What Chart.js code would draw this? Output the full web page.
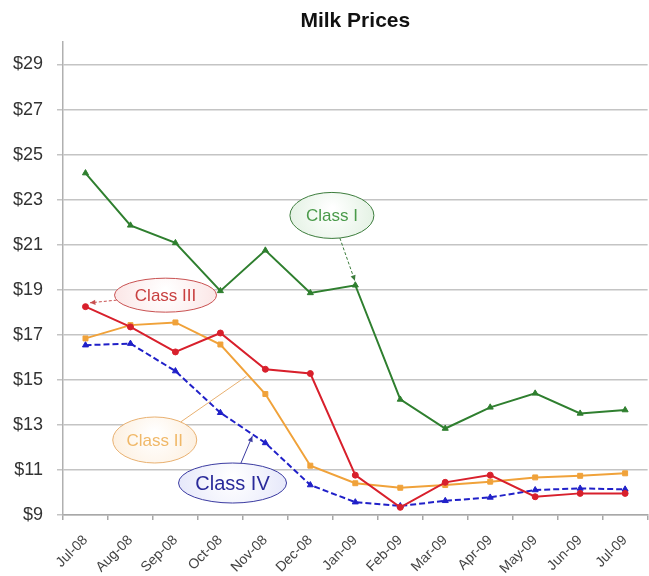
<!DOCTYPE html>
<html>
<head>
<meta charset="utf-8">
<script src="https://cdn.jsdelivr.net/npm/chart.js@4.4.1/dist/chart.umd.min.js"></script>
<style>
  html, body { margin: 0; padding: 0; background: #ffffff; }
  #milkChart { display: block; }
</style>
</head>
<body>
<canvas id="milkChart" width="649" height="576"></canvas>
<script>
const months = ['Jul-08', 'Aug-08', 'Sep-08', 'Oct-08', 'Nov-08', 'Dec-08', 'Jan-09',
    'Feb-09', 'Mar-09', 'Apr-09', 'May-09', 'Jun-09', 'Jul-09']
const class1 = [24.18, 21.86, 21.08, 18.95, 20.75, 18.86, 19.2, 14.13, 12.84, 13.78, 14.4, 13.51, 13.66]
const class2 = [16.84, 17.43, 17.55, 16.57, 14.37, 11.19, 10.41, 10.21, 10.33, 10.48, 10.67, 10.74, 10.85]
const class3 = [18.25, 17.35, 16.24, 17.08, 15.47, 15.28, 10.77, 9.34, 10.45, 10.77, 9.81, 9.96, 9.96]
const class4 = [16.54, 16.61, 15.39, 13.54, 12.2, 10.33, 9.57, 9.4, 9.63, 9.78, 10.11, 10.18, 10.14]
const yTicks = [9, 11, 13, 15, 17, 19, 21, 23, 25, 27, 29]
const chartTitle = 'Milk Prices'

// callout bubbles, placed in data space (category index, price)
const callouts = [
    { text: 'Class I', at: [5.48, 22.3], tip: [5.99, 19.4], rx: 42, ry: 23, size: 17,
      line: '#3c7c3c', textColor: '#4a9a4a', tint: '#e4f2e4', dashed: true, arrow: true },
    { text: 'Class III', at: [1.78, 18.76], tip: [0.1, 18.42], rx: 51, ry: 17, size: 17,
      line: '#c85050', textColor: '#c84040', tint: '#fbe6e6', dashed: true, arrow: true },
    { text: 'Class II', at: [1.54, 12.33], tip: [3.58, 15.16], rx: 42, ry: 23, size: 17,
      line: '#e8b070', textColor: '#f0b868', tint: '#fdf0e0', dashed: false, arrow: false },
    { text: 'Class IV', at: [3.27, 10.42], tip: [3.71, 12.5], rx: 54, ry: 20, size: 20,
      line: '#3a3aa0', textColor: '#2a2a9a', tint: '#e6e8fa', dashed: false, arrow: true }
]

function drawArrow(ctx, x0, y0, x1, y1, color) {
    let a = Math.atan2(y1 - y0, x1 - x0)
    let len = 6
    ctx.save()
    ctx.setLineDash([])
    ctx.fillStyle = color
    ctx.beginPath()
    ctx.moveTo(x1, y1)
    ctx.lineTo(x1 - len * Math.cos(a - 0.45), y1 - len * Math.sin(a - 0.45))
    ctx.lineTo(x1 - len * Math.cos(a + 0.45), y1 - len * Math.sin(a + 0.45))
    ctx.closePath()
    ctx.fill()
    ctx.restore()
}

const calloutPlugin = {
    id: 'callouts',
    afterDatasetsDraw(chart) {
        let ctx = chart.ctx
        let xs = chart.scales.x
        let ys = chart.scales.y
        callouts.forEach(function (c) {
            let cx = xs.getPixelForValue(c.at[0])
            let cy = ys.getPixelForValue(c.at[1])
            let tx = xs.getPixelForValue(c.tip[0])
            let ty = ys.getPixelForValue(c.tip[1])
            let t = Math.atan2((ty - cy) / c.ry, (tx - cx) / c.rx)
            let sx = cx + c.rx * Math.cos(t)
            let sy = cy + c.ry * Math.sin(t)

            ctx.save()
            ctx.strokeStyle = c.line
            ctx.lineWidth = 1
            ctx.setLineDash(c.dashed ? [3, 2] : [])
            ctx.beginPath()
            ctx.moveTo(sx, sy)
            ctx.lineTo(tx, ty)
            ctx.stroke()
            if (c.arrow) drawArrow(ctx, sx, sy, tx, ty, c.line)

            let grad = ctx.createRadialGradient(cx, cy - c.ry * 0.3, 2, cx, cy, c.rx)
            grad.addColorStop(0, '#ffffff')
            grad.addColorStop(1, c.tint)
            ctx.setLineDash([])
            ctx.fillStyle = grad
            ctx.beginPath()
            ctx.ellipse(cx, cy, c.rx, c.ry, 0, 0, Math.PI * 2)
            ctx.fill()
            ctx.strokeStyle = c.line
            ctx.stroke()

            ctx.fillStyle = c.textColor
            ctx.font = c.size + 'px "Liberation Sans", Arial, sans-serif'
            ctx.textAlign = 'center'
            ctx.textBaseline = 'middle'
            ctx.fillText(c.text, cx, cy + 1)
            ctx.restore()
        })
    },
    afterDraw(chart) {
        let ctx = chart.ctx
        let area = chart.chartArea
        ctx.save()
        ctx.fillStyle = '#111111'
        ctx.font = 'bold 21px "Liberation Sans", Arial, sans-serif'
        ctx.textAlign = 'center'
        ctx.textBaseline = 'middle'
        ctx.fillText(chartTitle, (area.left + area.right) / 2, 21)
        ctx.restore()
    }
}

function makeSeries(label, data, color, style, radius, dash) {
    return {
        label: label,
        data: data,
        borderColor: color,
        backgroundColor: color,
        borderWidth: 2,
        borderDash: dash,
        pointStyle: style,
        pointRadius: radius,
        pointHoverRadius: radius,
        pointBorderWidth: 1,
        tension: 0
    }
}

let ctx = document.getElementById('milkChart')
new Chart(ctx, {
    type: 'line',
    data: {
        labels: months,
        datasets: [
            makeSeries('Class I', class1, '#2f7f2f', 'triangle', 3.5, []),
            makeSeries('Class III', class3, '#d8202c', 'circle', 3, []),
            makeSeries('Class II', class2, '#f0a23a', 'rect', 3.5, []),
            makeSeries('Class IV', class4, '#2020c8', 'triangle', 3.5, [6, 3])
        ]
    },
    options: {
        responsive: false,
        animation: false,
        layout: { autoPadding: false, padding: { top: 42, left: 0, right: 0, bottom: 0 } },
        plugins: {
            legend: { display: false },
            title: { display: false },
            tooltip: { enabled: false }
        },
        scales: {
            x: {
                offset: true,
                grid: { offset: true, drawOnChartArea: false, tickLength: 5, color: '#a8a8a8', lineWidth: 1.5 },
                border: { color: '#a8a8a8', width: 1.5 },
                ticks: {
                    autoSkip: false, maxRotation: 45, minRotation: 45, padding: 12,
                    color: '#444444', font: { family: '"Liberation Sans", Arial, sans-serif', size: 14 }
                },
                afterFit(scale) { scale.height = 61 }
            },
            y: {
                min: 9,
                max: 30,
                afterBuildTicks(scale) { scale.ticks = yTicks.map(v => ({ value: v })) },
                afterFit(scale) { scale.width = 63 },
                grid: { color: '#c4c4c4', lineWidth: 1.5, tickLength: 6 },
                border: { color: '#b0b0b0', width: 1.5 },
                ticks: {
                    padding: 14,
                    color: '#333333',
                    font: { family: '"Liberation Sans", Arial, sans-serif', size: 18 },
                    callback: v => '$' + v
                }
            }
        }
    },
    plugins: [calloutPlugin]
})
</script>
</body>
</html>
